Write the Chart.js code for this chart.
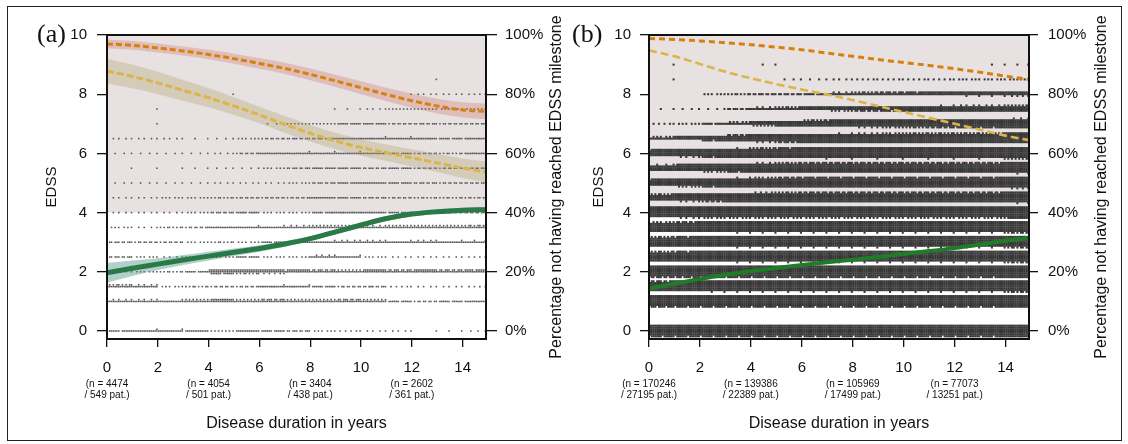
<!DOCTYPE html>
<html><head><meta charset="utf-8">
<script src="https://cdn.jsdelivr.net/npm/chart.js@4.4.1/dist/chart.umd.min.js"></script>
<style>
html,body{margin:0;padding:0;background:#fff;}
#wrap{position:relative;width:1128px;height:444px;overflow:hidden;background:#fff;}
#frame{position:absolute;left:7px;top:6px;width:1115px;height:435px;border:1.5px solid #222;box-sizing:border-box;}
canvas{position:absolute;top:0;}
#ca{left:0;} #cb{left:560px;}
</style></head><body>
<div id="wrap">
<div id="frame"></div>
<canvas id="ca" width="572" height="444"></canvas>
<canvas id="cb" width="568" height="444"></canvas>
</div>
<script>
// ---------- data ----------
const years = [0,1,2,3,4,5,6,7,8,9,10,11,12,13,14,14.9];
const xTickValues = [0,2,4,6,8,10,12,14];
const yTickValues = [0,2,4,6,8,10];
const pctTickLabels = ['0%','20%','40%','60%','80%','100%'];
const nTickYears = [0,4,8,12];
const nLabelsA = [['(n = 4474','/ 549 pat.)'],['(n = 4054','/ 501 pat.)'],['(n = 3404','/ 438 pat.)'],['(n = 2602','/ 361 pat.)']];
const nLabelsB = [['(n = 170246','/ 27195 pat.)'],['(n = 139386','/ 22389 pat.)'],['(n = 105969','/ 17499 pat.)'],['(n = 77073','/ 13251 pat.)']];
const edssLevels = [0,1,1.5,2,2.5,3,3.5,4,4.5,5,5.5,6,6.5,7,7.5,8,8.5,9];

// observations per EDSS level (rows) and per year of disease duration (columns 0..14)
const swarmA = [
 [12,15,15,13,7,13,12,10,6,5,4,4,1,2,3],
 [18,18,15,21,27,21,24,21,21,24,21,12,9,12,12],
 [22,18,6,8,9,9,15,15,12,9,10,5,4,4,4],
 [4,6,8,12,40,36,33,27,24,21,27,24,27,24,24],
 [10,6,4,8,6,12,6,6,18,15,6,4,4,4,4],
 [10,9,9,6,8,6,12,15,15,18,18,15,18,15,15],
 [6,4,8,9,14,15,15,18,21,21,18,21,21,21,21],
 [4,4,4,6,10,12,6,6,12,14,14,12,9,9,9],
 [4,4,6,6,8,9,9,9,14,12,10,9,8,8,8],
 [3,3,3,3,4,4,4,6,10,12,14,12,10,9,9],
 [1,1,1,2,3,3,6,10,12,12,10,12,9,9,9],
 [3,3,3,3,4,9,14,15,15,15,15,12,9,8,12],
 [4,4,4,2,3,6,9,10,10,14,15,15,14,12,12],
 [0,1,0,0,0,0,3,7,7,12,12,9,10,9,9],
 [0,1,0,0,0,0,0,0,1,2,4,7,7,6,6],
 [0,0,0,0,1,0,0,0,0,0,0,1,4,4,4],
 [0,0,0,0,0,0,0,0,0,0,0,0,1,0,0],
 [0,0,0,0,0,0,0,0,0,0,0,0,0,0,0]
];
const swarmB = [
 [96,96,96,96,96,96,96,96,96,96,96,96,96,96,96],
 [95,96,96,96,96,96,96,96,96,96,96,96,96,96,96],
 [80,84,86,86,86,86,86,86,86,86,86,86,86,86,86],
 [94,95,96,96,96,96,96,96,96,96,96,96,96,96,96],
 [78,82,84,86,86,86,86,86,86,86,86,86,86,86,86],
 [78,82,84,86,86,86,86,86,86,86,86,86,86,86,86],
 [76,80,84,86,86,86,86,86,86,86,86,86,86,86,86],
 [84,88,90,90,90,90,90,90,90,90,90,90,90,90,90],
 [50,60,65,70,75,78,80,80,80,80,80,80,80,80,80],
 [55,62,68,72,76,80,82,82,82,82,82,82,82,82,82],
 [45,55,62,68,74,78,80,80,80,80,80,80,80,80,80],
 [55,60,68,72,78,82,85,85,85,85,85,85,85,85,85],
 [20,28,40,52,60,66,70,72,74,76,78,78,78,78,78],
 [5,6,12,20,35,42,50,55,60,62,64,66,68,68,68],
 [2,3,3,10,18,22,28,34,38,40,42,44,46,46,46],
 [0,0,6,8,10,10,12,18,22,24,26,28,30,30,30],
 [1,0,0,0,0,3,3,4,5,5,5,5,6,6,6],
 [1,0,0,0,2,0,0,0,0,0,0,0,0,2,2]
];

// panel (a) curves (EDSS scale; percentage = value*10)
const orangeA   = [9.70,9.65,9.56,9.46,9.34,9.20,9.04,8.87,8.67,8.45,8.22,7.99,7.78,7.60,7.47,7.42];
const orangeAUp = [9.85,9.80,9.71,9.61,9.50,9.37,9.22,9.06,8.87,8.66,8.44,8.22,8.02,7.85,7.73,7.69];
const orangeALo = [9.55,9.50,9.41,9.31,9.18,9.03,8.86,8.68,8.47,8.24,8.00,7.76,7.54,7.35,7.21,7.15];
const yellowA   = [8.78,8.60,8.38,8.13,7.88,7.60,7.30,6.98,6.68,6.42,6.20,6.02,5.85,5.68,5.50,5.38];
const yellowAUp = [9.20,9.00,8.76,8.48,8.20,7.90,7.58,7.26,6.96,6.70,6.48,6.30,6.14,5.99,5.83,5.73];
const yellowALo = [8.36,8.20,8.00,7.78,7.56,7.30,7.02,6.70,6.40,6.14,5.92,5.74,5.56,5.37,5.17,5.03];
const greenA    = [1.97,2.12,2.26,2.40,2.53,2.66,2.79,2.94,3.12,3.35,3.58,3.80,3.95,4.03,4.08,4.10];
const greenAUp  = [2.30,2.38,2.46,2.57,2.68,2.79,2.90,3.03,3.20,3.43,3.66,3.88,4.03,4.11,4.16,4.19];
const greenALo  = [1.63,1.86,2.06,2.23,2.38,2.53,2.68,2.85,3.04,3.27,3.50,3.72,3.87,3.95,4.00,4.01];
// panel (b) curves
const orangeB = [9.88,9.85,9.80,9.74,9.67,9.59,9.50,9.39,9.28,9.17,9.07,8.97,8.86,8.74,8.61,8.50];
const yellowB = [9.48,9.28,9.02,8.76,8.54,8.34,8.16,7.99,7.80,7.60,7.40,7.20,7.00,6.80,6.60,6.45];
const greenB  = [1.43,1.60,1.76,1.90,2.02,2.13,2.23,2.32,2.41,2.50,2.60,2.70,2.80,2.92,3.05,3.13];

// ---------- rendering ----------
const FONT = '"Liberation Sans", Arial, sans-serif';

function swarmPoints(counts){
  const pts = [];
  const C = 14, dx = 1/14, dy = 0.06, offs = [0,1,-1,2,-2,3,-3];
  counts.forEach((row, li) => {
    const lvl = edssLevels[li];
    row.forEach((n0, bin) => {
      const cols = bin === 14 ? 13 : C;
      const n = Math.min(n0, cols * offs.length);
      for (let j = 0; j < cols; j++) {
        const h = Math.floor((j+1)*n/cols) - Math.floor(j*n/cols);
        for (let k = 0; k < h; k++) pts.push({x: bin + (j+0.5)*dx, y: lvl + offs[k]*dy});
      }
    });
  });
  return pts;
}
const xy = arr => years.map((x,i) => ({x, y: arr[i]}));

function makeChart(id, cfg){
  const ds = [];
  ds.push({type:'scatter', data: swarmPoints(cfg.swarm), pointStyle:'rect', pointRadius:cfg.ptR,
           pointBorderWidth:0, borderWidth:0, borderColor:'rgba(0,0,0,0)', backgroundColor:cfg.ptColor, order:10});
  cfg.bands.forEach(b => {
    ds.push({data: xy(b.up), fill:'+1', backgroundColor:b.color, borderColor:'rgba(0,0,0,0)', borderWidth:0,
             pointRadius:0, cubicInterpolationMode:'monotone', order:5});
    ds.push({data: xy(b.lo), fill:false, borderColor:'rgba(0,0,0,0)', borderWidth:0,
             pointRadius:0, cubicInterpolationMode:'monotone', order:5});
  });
  cfg.lines.forEach(l => ds.push({data: xy(l.y), borderColor:l.color, borderWidth:l.w, borderDash:l.dash || [],
             borderCapStyle:'butt', pointRadius:0, fill:false, cubicInterpolationMode:'monotone', order:1}));

  const tickGrid = len => ({drawOnChartArea:false, drawTicks:true, tickLength:len, color:'#111', lineWidth:1.3});
  const deco = {
    id:'deco',
    beforeDatasetsDraw(chart){
      const ca = chart.chartArea, ctx = chart.ctx;
      const y4 = chart.scales.y.getPixelForValue(4);
      ctx.save(); ctx.fillStyle = '#e7e1e2';
      ctx.fillRect(ca.left, ca.top, ca.right-ca.left, y4-ca.top);
      ctx.restore();
    },
    afterDraw(chart){
      const ca = chart.chartArea, ctx = chart.ctx, xs = chart.scales.x;
      ctx.save();
      ctx.strokeStyle = '#111'; ctx.lineWidth = 2;
      ctx.strokeRect(ca.left, ca.top, ca.right-ca.left, ca.bottom-ca.top);
      ctx.fillStyle = '#111';
      const cy = (ca.top+ca.bottom)/2;
      ctx.textAlign = 'center'; ctx.textBaseline = 'middle';
      // x tick labels
      ctx.font = '15px ' + FONT;
      xTickValues.forEach(v => ctx.fillText(String(v), xs.getPixelForValue(v), 368));
      // left title
      ctx.save(); ctx.translate(cfg.leftTitleX, cy); ctx.rotate(-Math.PI/2);
      ctx.font = '15px ' + FONT; ctx.fillText('EDSS', 0, 0); ctx.restore();
      // right title
      ctx.save(); ctx.translate(cfg.rightTitleX, cy); ctx.rotate(-Math.PI/2);
      ctx.font = '16px ' + FONT; ctx.fillText('Percentage not having reached EDSS milestone', 0, 0); ctx.restore();
      // bottom title
      ctx.font = '16px ' + FONT;
      ctx.fillText('Disease duration in years', (ca.left+ca.right)/2, 424);
      // n labels
      ctx.font = '10px ' + FONT;
      nTickYears.forEach((v,i) => {
        const px = xs.getPixelForValue(v);
        ctx.fillText(cfg.nLabels[i][0], px, 384);
        ctx.fillText(cfg.nLabels[i][1], px, 395);
      });
      // panel letter
      ctx.textAlign = 'left'; ctx.textBaseline = 'alphabetic';
      ctx.font = '26px "Liberation Serif", "Times New Roman", serif';
      ctx.fillText(cfg.letter, cfg.letterX, 42);
      ctx.restore();
    }
  };

  return new Chart(document.getElementById(id), {
    type:'line',
    data:{datasets: ds},
    options:{
      responsive:false, animation:false, events:[],
      layout:{padding:{top:35, bottom:0, left:0, right:0}},
      plugins:{legend:{display:false}, tooltip:{enabled:false}},
      scales:{
        x:{type:'linear', min:0, max:14.92, position:'bottom',
           afterBuildTicks: s => { s.ticks = xTickValues.map(v => ({value:v})); },
           afterFit: s => { s.height = 105; },
           grid: tickGrid(8), border:{display:false},
           ticks:{display:false, autoSkip:false, maxRotation:0}},
        y:{type:'linear', min:-0.27, max:10, position:'left',
           afterBuildTicks: s => { s.ticks = yTickValues.map(v => ({value:v})); },
           afterFit: s => { s.width = cfg.yW; },
           grid: tickGrid(cfg.yTick), border:{display:false},
           ticks:{padding:cfg.yPad, color:'#111', font:{family:FONT, size:15}, callback: v => String(v)}},
        y2:{type:'linear', min:-0.27, max:10, position:'right',
           afterBuildTicks: s => { s.ticks = yTickValues.map(v => ({value:v})); },
           afterFit: s => { s.width = cfg.y2W; },
           grid: tickGrid(cfg.y2Tick), border:{display:false},
           ticks:{padding:cfg.y2Pad, color:'#111', font:{family:FONT, size:15}, callback: (v,i) => pctTickLabels[i]}}
      }
    },
    plugins:[deco]
  });
}

makeChart('ca', {
  swarm: swarmA, ptR: 1.1, ptColor: '#555555',
  bands: [
    {up: orangeAUp, lo: orangeALo, color: 'rgba(205,100,80,0.28)'},
    {up: yellowAUp, lo: yellowALo, color: 'rgba(170,160,100,0.32)'},
    {up: greenAUp,  lo: greenALo,  color: 'rgba(80,150,140,0.45)'}
  ],
  lines: [
    {y: orangeA, color:'#d8800f', w:3, dash:[6,3]},
    {y: yellowA, color:'#dbb54a', w:3, dash:[7,3]},
    {y: greenA,  color:'#2a7a48', w:5}
  ],
  nLabels: nLabelsA, letter:'(a)', letterX: 37,
  yW: 107, y2W: 86, yTick: 10, yPad: 10, y2Tick: 11, y2Pad: 8,
  leftTitleX: 52, rightTitleX: 557
});

makeChart('cb', {
  swarm: swarmB, ptR: 1.45, ptColor: '#383838',
  bands: [],
  lines: [
    {y: orangeB, color:'#d8800f', w:3, dash:[6,4]},
    {y: yellowB, color:'#dbb54a', w:2.6, dash:[8,4]},
    {y: greenB,  color:'#1f7d28', w:4}
  ],
  nLabels: nLabelsB, letter:'(b)', letterX: 12,
  yW: 89, y2W: 99, yTick: 9, yPad: 9, y2Tick: 9, y2Pad: 10,
  leftTitleX: 39, rightTitleX: 542
});
</script>
</body></html>
